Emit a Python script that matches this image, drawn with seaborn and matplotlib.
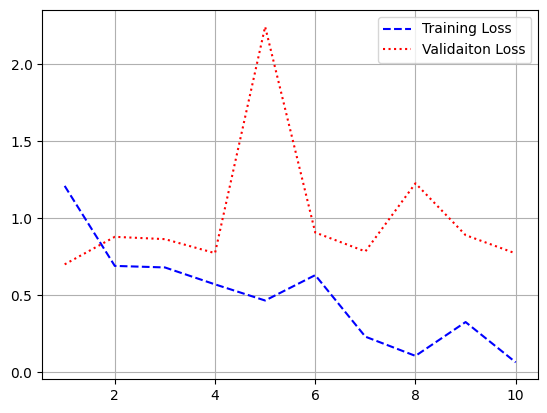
import matplotlib
matplotlib.use("Agg")
import matplotlib.pyplot as plt
import seaborn as sns

# ----------------------------
# Data
# ----------------------------
epochs = [1, 2, 3, 4, 5, 6, 7, 8, 9, 10]
train_loss = [1.21, 0.69, 0.68, 0.57, 0.465, 0.63, 0.23, 0.105, 0.325, 0.063]
val_loss = [0.70, 0.879, 0.864, 0.773, 2.245, 0.907, 0.784, 1.227, 0.89, 0.771]

# ----------------------------
# Plot
# ----------------------------
fig, ax = plt.subplots(figsize=(5.47, 4.13), dpi=100)
fig.subplots_adjust(left=0.077, right=0.984, top=0.976, bottom=0.082)

sns.lineplot(x=epochs, y=train_loss, ax=ax, color="blue", linestyle="--",
             label="Training Loss")
sns.lineplot(x=epochs, y=val_loss, ax=ax, color="red", linestyle=":",
             label="Validaiton Loss")

ax.set_xticks([2, 4, 6, 8, 10])
ax.set_yticks([0.0, 0.5, 1.0, 1.5, 2.0])
ax.grid(True)
ax.legend(loc="upper right")

fig.savefig("out.png", dpi=100)
